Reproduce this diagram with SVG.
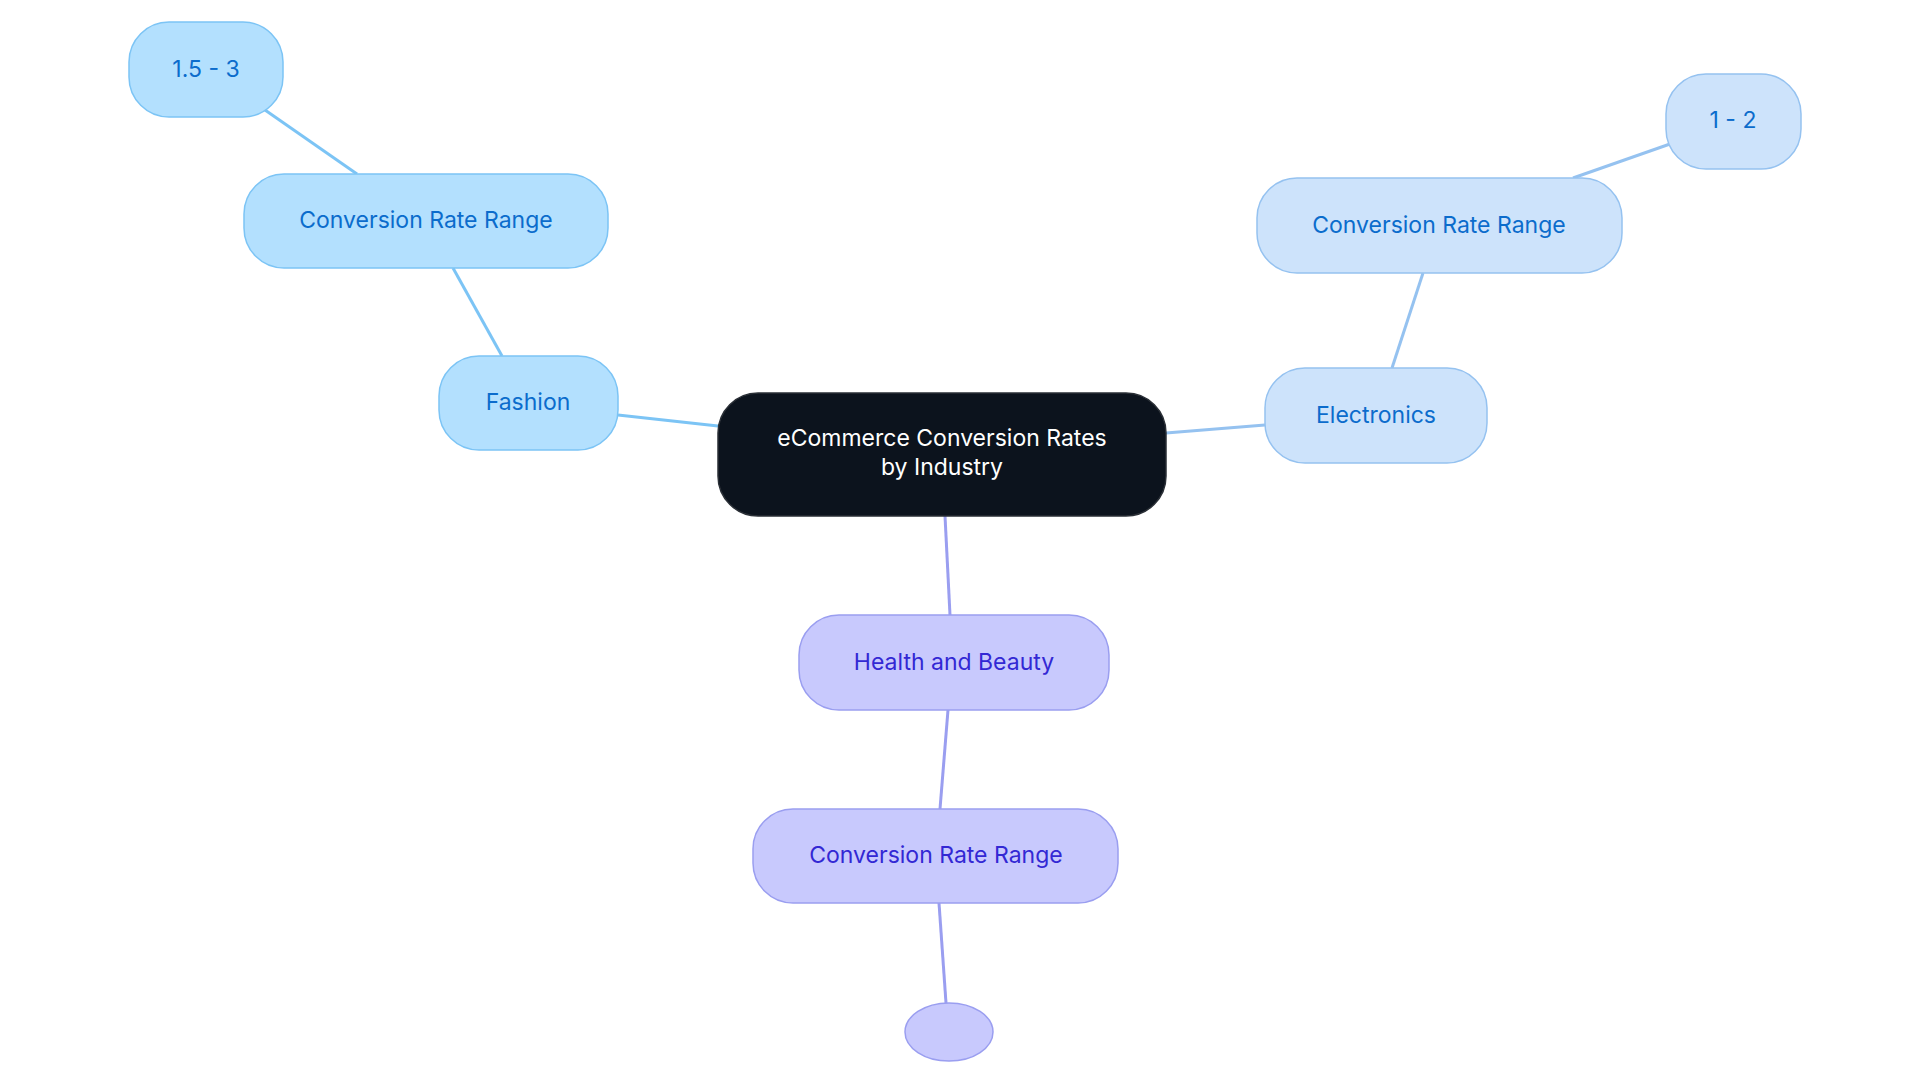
<svg xmlns="http://www.w3.org/2000/svg" width="1920" height="1083" viewBox="0 0 1920 1083">
<style>
text{font-family:Inter,"Noto Sans",sans-serif;font-size:23px;text-anchor:middle;dominant-baseline:central}
.b rect{fill:#b3e0fe;stroke:#7cc4f5;stroke-width:1.5}.b text{fill:#0b6ccc}
.e rect{fill:#cde3fb;stroke:#95c2f0;stroke-width:1.5}.e text{fill:#0b6ccc}
.p rect,.p ellipse{fill:#c8c9fd;stroke:#9a9ef0;stroke-width:1.5}.p text{fill:#3328d4}
#edges line{stroke-width:3;fill:none}
</style>
<rect width="1920" height="1083" fill="#fff"/>
<g id="edges">
<line x1="618" y1="415" x2="718" y2="426" stroke="#7cc4f5"/>
<line x1="502" y1="356" x2="453" y2="268" stroke="#7cc4f5"/>
<line x1="357" y1="174" x2="265" y2="110" stroke="#7cc4f5"/>
<line x1="1166" y1="433" x2="1265" y2="425" stroke="#95c2f0"/>
<line x1="1392" y1="368" x2="1423" y2="273" stroke="#95c2f0"/>
<line x1="1573" y1="178" x2="1670" y2="144" stroke="#95c2f0"/>
<line x1="945" y1="516" x2="950" y2="615" stroke="#9a9ef0"/>
<line x1="948" y1="710" x2="940" y2="809" stroke="#9a9ef0"/>
<line x1="939" y1="903" x2="946" y2="1003" stroke="#9a9ef0"/>
</g>
<g id="center"><rect x="718" y="393" width="448" height="123" rx="40" fill="#0c131d" stroke="#2a2f36" stroke-width="1.5"/><text x="942" y="438" fill="#fff">eCommerce Conversion Rates</text><text x="942" y="467" fill="#fff">by Industry</text></g>
<g id="fashion" class="b"><rect x="439" y="356" width="179" height="94" rx="40"/><text x="528" y="402">Fashion</text></g>
<g id="fashion-range" class="b"><rect x="244" y="174" width="364" height="94" rx="40"/><text x="426" y="220">Conversion Rate Range</text></g>
<g id="fashion-value" class="b"><rect x="129" y="22" width="154" height="95" rx="40"/><text x="206" y="69">1.5 - 3</text></g>
<g id="electronics" class="e"><rect x="1265" y="368" width="222" height="95" rx="40"/><text x="1376" y="415">Electronics</text></g>
<g id="electronics-range" class="e"><rect x="1257" y="178" width="365" height="95" rx="40"/><text x="1439" y="225">Conversion Rate Range</text></g>
<g id="electronics-value" class="e"><rect x="1666" y="74" width="135" height="95" rx="40"/><text x="1733" y="120">1 - 2</text></g>
<g id="health" class="p"><rect x="799" y="615" width="310" height="95" rx="40"/><text x="954" y="662">Health and Beauty</text></g>
<g id="health-range" class="p"><rect x="753" y="809" width="365" height="94" rx="40"/><text x="936" y="855">Conversion Rate Range</text></g>
<g id="health-value" class="p"><ellipse cx="949" cy="1032" rx="44" ry="29"/></g>
</svg>
